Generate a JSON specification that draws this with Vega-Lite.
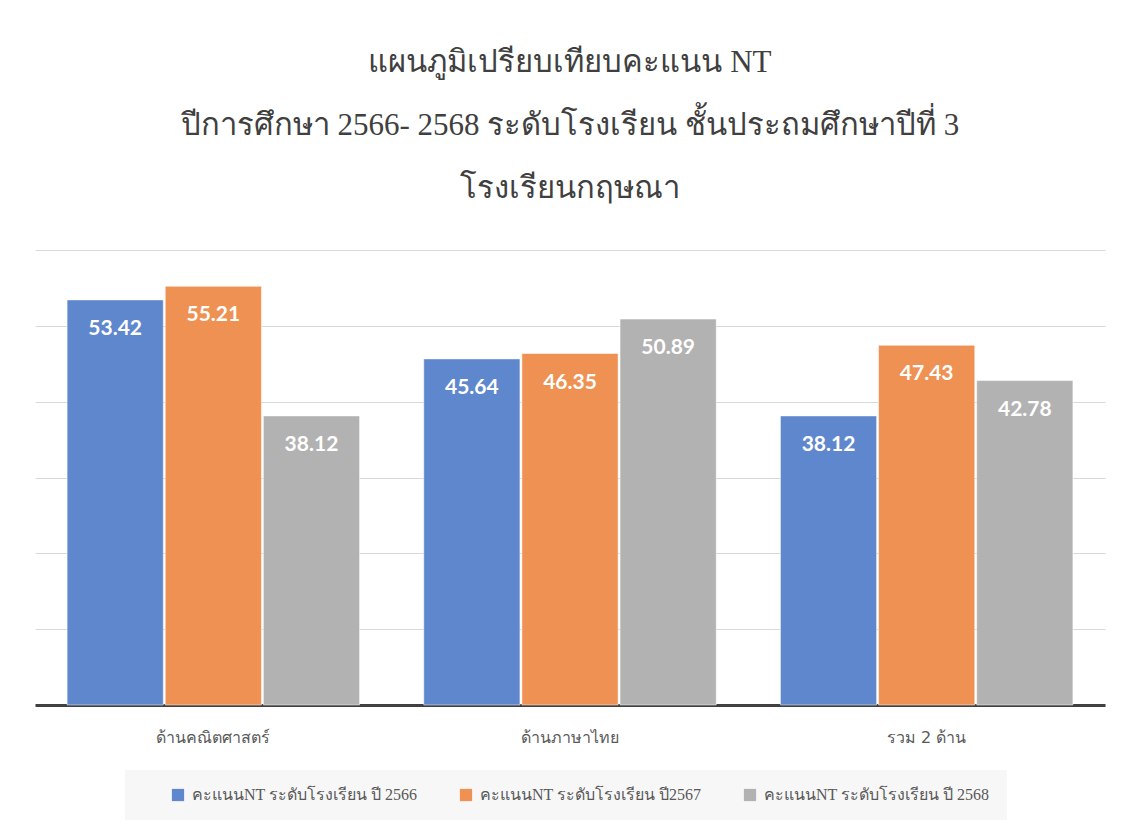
{
  "$schema": "https://vega.github.io/schema/vega-lite/v6.json",
  "autosize": {"type": "none"},
  "width": 1070,
  "height": 455,
  "padding": {"left": 35, "top": 250, "right": 21, "bottom": 127},
  "background": "white",
  "title": {
    "text": ["แผนภูมิเปรียบเทียบคะแนน NT", "ปีการศึกษา 2566- 2568  ระดับโรงเรียน ชั้นประถมศึกษาปีที่ 3", "โรงเรียนกฤษณา"],
    "font": "Liberation Serif",
    "fontSize": 31,
    "fontWeight": "normal",
    "color": "#404040",
    "lineHeight": 63,
    "anchor": "middle",
    "offset": 45
  },
  "data": {
    "values": [
      {"category": "ด้านคณิตศาสตร์", "series": "คะแนนNT  ระดับโรงเรียน ปี 2566", "value": 53.42},
      {"category": "ด้านคณิตศาสตร์", "series": "คะแนนNT  ระดับโรงเรียน ปี2567", "value": 55.21},
      {"category": "ด้านคณิตศาสตร์", "series": "คะแนนNT ระดับโรงเรียน ปี 2568", "value": 38.12},
      {"category": "ด้านภาษาไทย", "series": "คะแนนNT  ระดับโรงเรียน ปี 2566", "value": 45.64},
      {"category": "ด้านภาษาไทย", "series": "คะแนนNT  ระดับโรงเรียน ปี2567", "value": 46.35},
      {"category": "ด้านภาษาไทย", "series": "คะแนนNT ระดับโรงเรียน ปี 2568", "value": 50.89},
      {"category": "รวม 2 ด้าน", "series": "คะแนนNT  ระดับโรงเรียน ปี 2566", "value": 38.12},
      {"category": "รวม 2 ด้าน", "series": "คะแนนNT  ระดับโรงเรียน ปี2567", "value": 47.43},
      {"category": "รวม 2 ด้าน", "series": "คะแนนNT ระดับโรงเรียน ปี 2568", "value": 42.78}
    ]
  },
  "encoding": {
    "x": {
      "field": "category", "type": "nominal", "sort": null,
      "scale": {"paddingInner": 0.18, "paddingOuter": 0.09},
      "axis": {
        "title": null, "labelAngle": 0, "ticks": false,
        "labelFont": "DejaVu Sans", "labelFontSize": 16, "labelColor": "#595959",
        "labelPadding": 24,
        "domainColor": "#404040", "domainWidth": 3
      }
    },
    "xOffset": {"field": "series", "type": "nominal", "sort": null, "scale": {"paddingInner": 0.02}},
    "y": {
      "field": "value", "type": "quantitative",
      "scale": {"domain": [0, 60], "nice": false},
      "axis": {
        "title": null, "labels": false, "ticks": false, "domain": false,
        "values": [10, 20, 30, 40, 50, 60],
        "gridColor": "#d9d9d9", "gridWidth": 1
      }
    }
  },
  "layer": [
    {
      "mark": {"type": "bar", "stroke": "white", "strokeWidth": 1, "strokeOpacity": 0.5},
      "encoding": {
        "color": {
          "field": "series", "type": "nominal", "sort": null,
          "scale": {"range": ["#5f87cd", "#ef9152", "#b2b2b2"]},
          "legend": {
            "title": null,
            "orient": "none",
            "direction": "horizontal",
            "legendX": 90,
            "legendY": 520,
            "fillColor": "#f7f7f7",
            "padding": 17,
            "symbolType": "square",
            "symbolSize": 150,
            "symbolStrokeWidth": 0,
            "symbolOffset": 28,
            "labelFont": "Liberation Serif",
            "labelFontSize": 16,
            "labelColor": "#595959",
            "labelLimit": 300,
            "columnPadding": 8,
            "labelOffset": 6
          }
        }
      }
    },
    {
      "mark": {"type": "text", "color": "white", "font": "Lato", "fontWeight": "bold", "fontSize": 21, "baseline": "middle", "dy": 29},
      "encoding": {
        "text": {"field": "value", "type": "quantitative", "format": ".2f"}
      }
    }
  ],
  "config": {
    "view": {"stroke": null}
  }
}
